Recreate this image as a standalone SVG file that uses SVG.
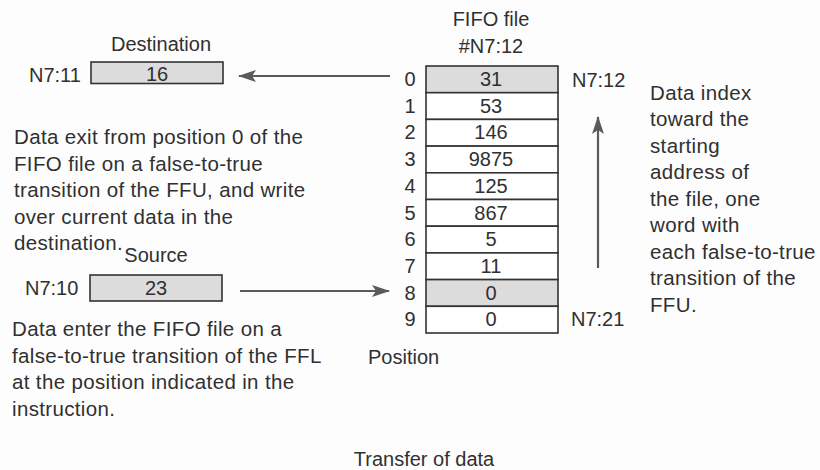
<svg xmlns="http://www.w3.org/2000/svg" width="820" height="470" viewBox="0 0 820 470">
<defs>
<style>
text{font-family:"Liberation Sans",Arial,sans-serif;fill:#303030;font-size:20px}
.p{font-size:20.5px;letter-spacing:0.35px}
.c{text-anchor:middle}
.cell{fill:#fff;stroke:#333;stroke-width:1.6}
.sh{fill:#dcdcdc}
.box{fill:#dcdcdc;stroke:#333;stroke-width:1.6}
.arr{stroke:#5a5a5a;stroke-width:2.2;fill:none;marker-end:url(#ah)}
</style>
<marker id="ah" viewBox="0 0 18 12" refX="17" refY="6" markerWidth="18" markerHeight="12" markerUnits="userSpaceOnUse" orient="auto">
<path d="M0,0 L18,6 L0,12 L4,6 z" fill="#5a5a5a"/>
</marker>
</defs>
<rect width="820" height="470" fill="#fdfdfd"/>

<g id="destination">
<text class="c" x="161" y="51">Destination</text>
<text x="29" y="82">N7:11</text>
<rect class="box" x="91" y="62" width="132" height="21.5"/>
<text class="c" x="157" y="81">16</text>
</g>

<g id="source">
<text class="c" x="156" y="262">Source</text>
<text x="25" y="295">N7:10</text>
<rect class="box" x="90" y="275" width="132" height="26"/>
<text class="c" x="156" y="295">23</text>
</g>

<g id="fifo-file">
<text class="c" x="491" y="26">FIFO file</text>
<text class="c" x="491" y="53">#N7:12</text>
<rect class="cell sh" x="426" y="66" width="132" height="26.7"/>
<rect class="cell" x="426" y="92.7" width="132" height="26.7"/>
<rect class="cell" x="426" y="119.4" width="132" height="26.7"/>
<rect class="cell" x="426" y="146.1" width="132" height="26.7"/>
<rect class="cell" x="426" y="172.8" width="132" height="26.7"/>
<rect class="cell" x="426" y="199.5" width="132" height="26.7"/>
<rect class="cell" x="426" y="226.2" width="132" height="26.7"/>
<rect class="cell" x="426" y="252.9" width="132" height="26.7"/>
<rect class="cell sh" x="426" y="279.6" width="132" height="26.7"/>
<rect class="cell" x="426" y="306.3" width="132" height="26.7"/>
<g class="c">
<text x="491" y="86">31</text>
<text x="491" y="112.7">53</text>
<text x="491" y="139.4">146</text>
<text x="491" y="166.1">9875</text>
<text x="491" y="192.8">125</text>
<text x="491" y="219.5">867</text>
<text x="491" y="246.2">5</text>
<text x="491" y="272.9">11</text>
<text x="491" y="299.6">0</text>
<text x="491" y="326.3">0</text>
</g>
<g class="c">
<text x="410" y="86">0</text>
<text x="410" y="112.7">1</text>
<text x="410" y="139.4">2</text>
<text x="410" y="166.1">3</text>
<text x="410" y="192.8">4</text>
<text x="410" y="219.5">5</text>
<text x="410" y="246.2">6</text>
<text x="410" y="272.9">7</text>
<text x="410" y="299.6">8</text>
<text x="410" y="326.3">9</text>
</g>
<text x="572" y="87">N7:12</text>
<text x="571" y="326">N7:21</text>
<text x="368" y="364">Position</text>
</g>

<g id="connectors">
<line class="arr" x1="390" y1="76" x2="239" y2="76"/>
<line class="arr" x1="240" y1="291" x2="389" y2="291"/>
<line class="arr" x1="598" y1="268" x2="598" y2="117"/>
</g>

<g id="exit-note">
<text class="p" x="14" y="144">Data exit from position 0 of the</text>
<text class="p" x="14" y="170.5">FIFO file on a false-to-true</text>
<text class="p" x="14" y="197">transition of the FFU, and write</text>
<text class="p" x="14" y="223.5">over current data in the</text>
<text class="p" x="14" y="250">destination.</text>
</g>

<g id="enter-note">
<text class="p" x="12" y="336">Data enter the FIFO file on a</text>
<text class="p" x="12" y="362.5">false-to-true transition of the FFL</text>
<text class="p" x="12" y="389">at the position indicated in the</text>
<text class="p" x="12" y="415.5">instruction.</text>
</g>

<g id="index-note">
<text class="p" x="650" y="99.5">Data index</text>
<text class="p" x="650" y="126">toward the</text>
<text class="p" x="650" y="152.5">starting</text>
<text class="p" x="650" y="179">address of</text>
<text class="p" x="650" y="205.5">the file, one</text>
<text class="p" x="650" y="232">word with</text>
<text class="p" x="650" y="258.5">each false-to-true</text>
<text class="p" x="650" y="285">transition of the</text>
<text class="p" x="650" y="311.5">FFU.</text>
</g>

<text class="c" x="424" y="466">Transfer of data</text>
</svg>
